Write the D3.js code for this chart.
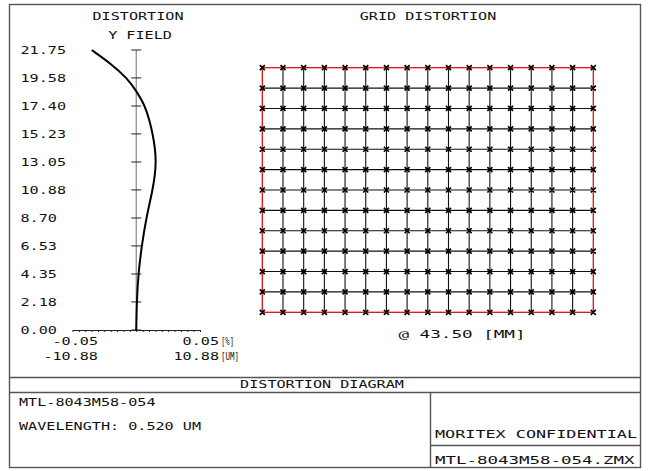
<!DOCTYPE html>
<html>
<head>
<meta charset="utf-8">
<script src="https://cdn.jsdelivr.net/npm/d3@7"></script>
<style>
  body { margin: 0; background: #fff; }
  svg text { font-family: "DejaVu Sans Mono", monospace; font-size: 11px; fill: #111; }
</style>
</head>
<body>
<svg id="chart" width="648" height="471"></svg>
<script>
// Distortion curve (field in mm, distortion in %)
const fieldValues = [0, 2.18, 4.35, 6.53, 8.70, 10.88, 12.0, 13.05, 14.14, 15.23, 16.3, 17.40, 18.5, 19.58, 20.67, 21.75];
const distortionValues = [0, 0.0004, 0.0016, 0.0043, 0.0078, 0.0129, 0.0146, 0.0155, 0.0147, 0.0129, 0.0103, 0.0069, 0.0006, -0.0073, -0.0196, -0.0349];

// Y field tick labels
const fieldTicks = ["0.00", "2.18", "4.35", "6.53", "8.70", "10.88", "13.05", "15.23", "17.40", "19.58", "21.75"];

// Grid distortion: grid node indices (columns, rows)
const gridCols = [-8, -7, -6, -5, -4, -3, -2, -1, 0, 1, 2, 3, 4, 5, 6, 7, 8];
const gridRows = [-6, -5, -4, -3, -2, -1, 0, 1, 2, 3, 4, 5, 6];

const svg = d3.select('#chart');

// plotter-style text: glyphs stretched to a fixed advance per character
function addText(x, y, str, anchor = 'start', adv = 9.1) {
    return svg.append('text')
        .attr('x', x).attr('y', y).attr('dy', '0.35em')
        .attr('text-anchor', anchor)
        .attr('textLength', str.length * adv)
        .attr('lengthAdjust', 'spacingAndGlyphs')
        .text(str);
}

// ---- frame ----
svg.append('rect')
    .attr('x', 9.5).attr('y', 4.5)
    .attr('width', 631).attr('height', 463)
    .attr('fill', 'none').attr('stroke', '#555').attr('stroke-width', 1.4);

const frameLines = [
    [9.5, 377.5, 640.5, 377.5],
    [9.5, 392.5, 640.5, 392.5],
    [430.5, 392.5, 430.5, 467.5],
    [430.5, 445.5, 640.5, 445.5]
];
svg.selectAll('.frame-line')
    .data(frameLines)
    .enter().append('line')
    .attr('class', 'frame-line')
    .attr('x1', d => d[0]).attr('y1', d => d[1])
    .attr('x2', d => d[2]).attr('y2', d => d[3])
    .attr('stroke', '#555').attr('stroke-width', 1.4);

// ---- left plot: distortion vs field ----
const x = d3.scaleLinear().domain([-0.05, 0.05]).range([72.5, 200]);
const y = d3.scaleLinear().domain([0, 21.75]).range([330, 50]);

addText(138, 16, 'DISTORTION', 'middle');
addText(140, 35, 'Y FIELD', 'middle');

// vertical axis
svg.append('line')
    .attr('x1', x(0)).attr('x2', x(0))
    .attr('y1', y(0)).attr('y2', y(21.75))
    .attr('stroke', '#888').attr('stroke-width', 1.2);

svg.selectAll('.ytick')
    .data(fieldTicks)
    .enter().append('line')
    .attr('class', 'ytick')
    .attr('x1', x(0) - 5).attr('x2', x(0) + 5)
    .attr('y1', d => y(+d)).attr('y2', d => y(+d))
    .attr('stroke', '#222');

fieldTicks.forEach(t => addText(20.5, y(+t), t));

// horizontal axis with minor ticks
const xAxis = d3.axisBottom(x).ticks(20).tickSize(2).tickSizeOuter(0).tickFormat('');
const xg = svg.append('g').attr('transform', `translate(0,${y(0)})`).call(xAxis);
xg.selectAll('path, line').attr('stroke', '#222');

addText(98, 341, '-0.05', 'end');
addText(98, 356, '-10.88', 'end');
addText(219, 341, '0.05', 'end');
addText(219, 356, '10.88', 'end');
svg.append('text').attr('x', 221).attr('y', 341).attr('dy', '0.35em')
    .attr('textLength', 13).attr('lengthAdjust', 'spacingAndGlyphs').text('[%]');
svg.append('text').attr('x', 221).attr('y', 356).attr('dy', '0.35em')
    .attr('textLength', 18).attr('lengthAdjust', 'spacingAndGlyphs').text('[UM]');

// distortion curve
const curve = d3.line()
    .x(d => x(d[1]))
    .y(d => y(d[0]))
    .curve(d3.curveBasis);
svg.append('path')
    .datum(fieldValues.map((f, i) => [f, distortionValues[i]]))
    .attr('d', curve)
    .attr('fill', 'none')
    .attr('stroke', '#000')
    .attr('stroke-width', 2);

// ---- right plot: grid distortion ----
addText(428, 16, 'GRID DISTORTION', 'middle');

const gx = d3.scaleLinear().domain([-8, 8]).range([262.3, 593.3]);
const gy = d3.scaleLinear().domain([-6, 6]).range([312.3, 67.7]);

// interior grid lines
svg.selectAll('.gv')
    .data(gridCols.slice(1, -1))
    .enter().append('line')
    .attr('class', 'gv')
    .attr('x1', d => gx(d)).attr('x2', d => gx(d))
    .attr('y1', gy(-6)).attr('y2', gy(6))
    .attr('stroke', '#111').attr('stroke-width', 1.1);
svg.selectAll('.gh')
    .data(gridRows.slice(1, -1))
    .enter().append('line')
    .attr('class', 'gh')
    .attr('y1', d => gy(d)).attr('y2', d => gy(d))
    .attr('x1', gx(-8)).attr('x2', gx(8))
    .attr('stroke', '#111').attr('stroke-width', 1.1);

// red outline
svg.append('rect')
    .attr('x', gx(-8)).attr('y', gy(6))
    .attr('width', gx(8) - gx(-8)).attr('height', gy(-6) - gy(6))
    .attr('fill', 'none').attr('stroke', '#dd1111').attr('stroke-width', 1.3);

// x markers at each node
const nodes = [];
gridRows.forEach(r => gridCols.forEach(c => nodes.push([c, r])));
const m = 2.5;
svg.append('path')
    .attr('d', nodes.map(([c, r]) => {
        const px = gx(c), py = gy(r);
        return `M${px - m},${py - m}L${px + m},${py + m}M${px - m},${py + m}L${px + m},${py - m}`;
    }).join(''))
    .attr('stroke', '#000').attr('stroke-width', 1.7).attr('fill', 'none');

addText(462, 334, '@ 43.50 [MM]', 'middle', 10.6);

// ---- title block ----
addText(322, 384.5, 'DISTORTION DIAGRAM', 'middle');
addText(19, 402, 'MTL-8043M58-054');
addText(19, 426, 'WAVELENGTH: 0.520 UM');
addText(435, 434, 'MORITEX CONFIDENTIAL', 'start', 10.1);
addText(435, 460, 'MTL-8043M58-054.ZMX', 'start', 10.5);
</script>
</body>
</html>
